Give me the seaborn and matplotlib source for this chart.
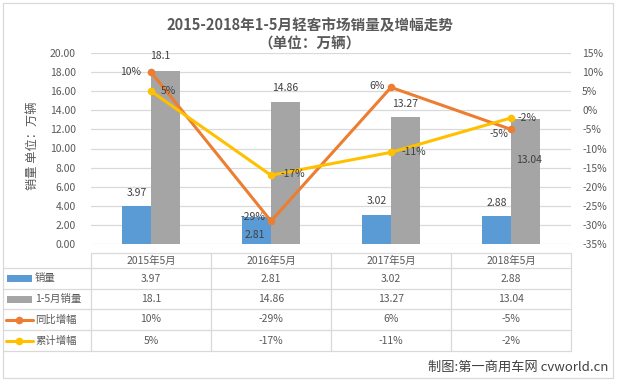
import numpy as np
import pandas as pd
import matplotlib
matplotlib.use('Agg')
import matplotlib.pyplot as plt
import seaborn as sns
from matplotlib.lines import Line2D
from matplotlib.patches import Rectangle

# ---------------- data ----------------
categories = ['2015年5月', '2016年5月', '2017年5月', '2018年5月']
may_sales = [3.97, 2.81, 3.02, 2.88]
ytd_sales = [18.1, 14.86, 13.27, 13.04]
yoy_growth = [10, -29, 6, -5]
ytd_growth = [5, -17, -11, -2]
series_names = ['销量', '1-5月销量', '同比增幅', '累计增幅']
left_ticks = [0, 2, 4, 6, 8, 10, 12, 14, 16, 18, 20]
right_ticks = [-35, -30, -25, -20, -15, -10, -5, 0, 5, 10, 15]

# label offsets in pixels (style only)
may_off = [(0, 13), (-2, -18), (0, 14), (0, 13)]
ytd_off = [(-5, 15), (0, 14), (0, 13), (4, -41)]
yoy_off = [(-20, 0), (-18, 4), (-14, 1), (-12, -5)]
ytdg_off = [(17, 0), (22, 1), (23, 0), (16, 0)]

blue, grey, orange, yellow = '#5B9BD5', '#A5A5A5', '#ED7D31', '#FFC000'
txt = '#595959'
grid = '#D9D9D9'

sns.set_theme(style='white')
plt.rcParams['font.family'] = ['Noto Sans CJK SC', 'DejaVu Sans']

W, H = 620, 381
fig = plt.figure(figsize=(6.2, 3.81), dpi=100)
fig.patch.set_facecolor('white')


def fx(px):
    return px / W


def fy(py):
    return 1 - py / H


ax = fig.add_axes([fx(91), fy(244), fx(571) - fx(91), fy(53) - fy(244)])
df = pd.DataFrame({
    'cat': categories * 2,
    'series': [series_names[0]] * 4 + [series_names[1]] * 4,
    'value': may_sales + ytd_sales,
})
sns.barplot(data=df, x='cat', y='value', hue='series', order=categories,
            hue_order=series_names[:2], palette=[blue, grey], width=0.48,
            gap=0, saturation=1, errorbar=None, legend=False, linewidth=0, ax=ax)
ax.set_xlim(-0.5, 3.5)
ax.set_ylim(0, 20)
ax.set_yticks(left_ticks)
ax.set_yticklabels([f'{v:.2f}' for v in left_ticks])
ax.set_xticks([])
ax.set_xlabel('')
ax.set_ylabel('')
ax.yaxis.grid(True, color=grid, lw=0.9)
ax.set_axisbelow(True)
for s in ax.spines.values():
    s.set_visible(False)
ax.tick_params(axis='y', length=0, labelsize=7.5, labelcolor=txt, pad=11)

# bar labels
for i, v in enumerate(may_sales):
    ax.annotate(f'{v}', (i - 0.12, v), xytext=may_off[i], textcoords='offset pixels',
                ha='center', va='center', fontsize=7.5, color='#404040')
for i, v in enumerate(ytd_sales):
    ax.annotate(f'{v}', (i + 0.12, v), xytext=ytd_off[i], textcoords='offset pixels',
                ha='center', va='center', fontsize=7.5, color='#404040')

ax2 = ax.twinx()
xs = np.arange(len(categories))
sns.lineplot(x=xs, y=yoy_growth, ax=ax2, color=orange, marker='o', markersize=5.5,
             markeredgewidth=0, linewidth=2.2)
sns.lineplot(x=xs, y=ytd_growth, ax=ax2, color=yellow, marker='o', markersize=5.5,
             markeredgewidth=0, linewidth=2.2)
ax2.set_xlim(-0.5, 3.5)
ax2.set_ylim(-35, 15)
ax2.set_yticks(right_ticks)
ax2.set_yticklabels([f'{v}%' for v in right_ticks])
ax2.set_ylabel('')
for s in ax2.spines.values():
    s.set_visible(False)
ax2.tick_params(axis='y', length=0, labelsize=7.5, labelcolor=txt, pad=8)

for i, v in enumerate(yoy_growth):
    ax2.annotate(f'{v}%', (i, v), xytext=yoy_off[i], textcoords='offset pixels',
                 ha='center', va='center', fontsize=7.5, color='#404040')
for i, v in enumerate(ytd_growth):
    ax2.annotate(f'{v}%', (i, v), xytext=ytdg_off[i], textcoords='offset pixels',
                 ha='center', va='center', fontsize=7.5, color='#404040')

# titles
fig.text(fx(310), fy(25), '2015-2018年1-5月轻客市场销量及增幅走势', ha='center', va='center',
         fontsize=10.5, fontweight='bold', color=txt)
fig.text(fx(310), fy(44), '（单位：万辆）', ha='center', va='center',
         fontsize=10.5, fontweight='bold', color=txt)
fig.text(fx(32), fy(146), '销量 单位：万辆', rotation=90, ha='center', va='center',
         fontsize=8.8, color=txt)

# data table
def hline(y, x0, x1):
    fig.add_artist(Line2D([fx(x0), fx(x1)], [fy(y), fy(y)], transform=fig.transFigure,
                          color=grid, lw=0.9))


def vline(x, y0, y1):
    fig.add_artist(Line2D([fx(x), fx(x)], [fy(y0), fy(y1)], transform=fig.transFigure,
                          color=grid, lw=0.9))


hline(253, 91, 571)
for y in [268, 289, 309, 330, 351]:
    hline(y, 3, 571)
for x in [91, 211, 331, 451, 571]:
    vline(x, 253, 351)

col_centers = [151, 271, 391, 511]
row_y = [278.5, 299, 319.5, 340.5]
for c, lab in zip(col_centers, categories):
    fig.text(fx(c), fy(260.5), lab, ha='center', va='center', fontsize=7.5, color=txt)
rows = [
    [f'{v}' for v in may_sales],
    [f'{v}' for v in ytd_sales],
    [f'{v}%' for v in yoy_growth],
    [f'{v}%' for v in ytd_growth],
]
for r, vals in enumerate(rows):
    for c, s in zip(col_centers, vals):
        fig.text(fx(c), fy(row_y[r]), s, ha='center', va='center', fontsize=7.5, color=txt)
    fig.text(fx(35), fy(row_y[r]), series_names[r], ha='left', va='center', fontsize=7.5, color=txt)

for r, col in enumerate([blue, grey]):
    fig.add_artist(Rectangle((fx(7), fy(row_y[r] + 3.5)), fx(25), 7 / H,
                             transform=fig.transFigure, color=col, lw=0))
for r, col in zip([2, 3], [orange, yellow]):
    fig.add_artist(Line2D([fx(6), fx(33)], [fy(row_y[r]), fy(row_y[r])],
                          transform=fig.transFigure, color=col, lw=2.2))
    fig.add_artist(Line2D([fx(19.5)], [fy(row_y[r])], transform=fig.transFigure,
                          color=col, marker='o', markersize=5.5, markeredgewidth=0))

fig.text(fx(608), fy(367), '制图:第一商用车网 cvworld.cn', ha='right', va='center',
         fontsize=9.5, color='#404040')

fig.add_artist(Rectangle((fx(3), fy(378)), fx(610), 375 / H, transform=fig.transFigure,
                         fill=False, edgecolor=grid, lw=0.9))

fig.savefig('out.png', dpi=100)
